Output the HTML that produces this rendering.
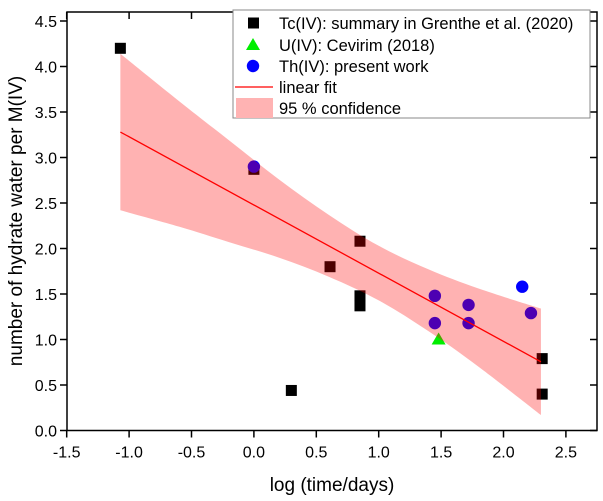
<!DOCTYPE html>
<html><head><meta charset="utf-8"><style>
html,body{margin:0;padding:0;background:#fff;}
svg{display:block;font-family:"Liberation Sans",Arial,sans-serif;}
</style></head><body>
<svg id="chart" width="603" height="501" viewBox="0 0 603 501">
</svg>
<script>
const xTicks=[-1.5,-1.0,-0.5,0.0,0.5,1.0,1.5,2.0,2.5];
const xTickLabels=["-1.5","-1.0","-0.5","0.0","0.5","1.0","1.5","2.0","2.5"];
const yTicks=[0,0.5,1,1.5,2,2.5,3,3.5,4,4.5];
const yTickLabels=["0.0","0.5","1.0","1.5","2.0","2.5","3.0","3.5","4.0","4.5"];
const tcX=[-1.07,0,0.3,0.61,0.85,0.85,0.85,2.31,2.31];
const tcY=[4.2,2.87,0.44,1.8,2.08,1.48,1.37,0.79,0.40];
const uX=[1.48];
const uY=[1.0];
const thX=[0,1.45,1.45,1.72,1.72,2.15,2.22];
const thY=[2.9,1.48,1.18,1.38,1.18,1.58,1.29];
const fitX=[-1.07,2.3];
const fitY=[3.28,0.755];
const bandX=[-1.07,-0.6,-0.2,0.2,0.6,1.0,1.4,1.8,2.3];
const bandUpY=[4.14,3.62,3.19,2.76,2.37,2.03,1.77,1.56,1.34];
const bandLoY=[2.42,2.24,2.07,1.90,1.69,1.43,1.09,0.70,0.17];

const NS="http://www.w3.org/2000/svg";
const svg=document.getElementById('chart');
const L=67,R=597,T=12,B=430.5;
const sx=v=>66.7+(v+1.5)*124.8;
const sy=v=>430.5-v*91;
function mk(tag,attrs,parent){const e=document.createElementNS(NS,tag);for(const k in attrs)e.setAttribute(k,attrs[k]);(parent||svg).appendChild(e);return e;}

tcX.forEach((x,i)=>{const e=mk('rect',{x:sx(x)-5.5,y:sy(tcY[i])-5.5,width:11,height:11,fill:'#000'});

});
uX.forEach((x,i)=>{const cx=sx(x),cy=sy(uY[i]);const e=mk('polygon',{points:`${cx-7},${cy+5} ${cx+7},${cy+5} ${cx},${cy-7}`,fill:'#00ee00'});

});
thX.forEach((x,i)=>{const e=mk('circle',{cx:sx(x),cy:sy(thY[i]),r:6.2,fill:'#0000ff'});

});

// smooth band path (catmull-rom through sampled points)
function smooth(xs,ys){const p=xs.map((x,i)=>[sx(x),sy(ys[i])]);let d='';
for(let i=0;i<p.length-1;i++){const p0=p[i-1]||p[i],p1=p[i],p2=p[i+1],p3=p[i+2]||p2;
const c1=[p1[0]+(p2[0]-p0[0])/6,p1[1]+(p2[1]-p0[1])/6],c2=[p2[0]-(p3[0]-p1[0])/6,p2[1]-(p3[1]-p1[1])/6];
d+=` C${c1[0]},${c1[1]} ${c2[0]},${c2[1]} ${p2[0]},${p2[1]}`;}return {start:p[0],d:d};}
const up=smooth(bandX,bandUpY);
const loXr=bandX.slice().reverse(),loYr=bandLoY.slice().reverse();
const lo=smooth(loXr,loYr);
const band=mk('path',{d:`M${up.start[0]},${up.start[1]}${up.d} L${lo.start[0]},${lo.start[1]}${lo.d} Z`,fill:'rgba(255,0,0,0.3)'});


const fit=mk('line',{x1:sx(fitX[0]),y1:sy(fitY[0]),x2:sx(fitX[1]),y2:sy(fitY[1]),stroke:'#ff0000','stroke-width':1.3});



const fr=mk('rect',{x:L,y:T,width:R-L,height:B-T,fill:'none',stroke:'#000','stroke-width':1.5});


xTicks.forEach((v,i)=>{const x=sx(v);
mk('line',{x1:x,y1:B,x2:x,y2:B+7,stroke:'#000','stroke-width':1.5});
mk('line',{x1:x,y1:T,x2:x,y2:T+7,stroke:'#000','stroke-width':1.5});
const t=mk('text',{x:x,y:B+27,'text-anchor':'middle','font-size':16,fill:'#000'});t.textContent=xTickLabels[i];

});
yTicks.forEach((v,i)=>{const y=sy(v);
mk('line',{x1:L-7,y1:y,x2:L,y2:y,stroke:'#000','stroke-width':1.5});
mk('line',{x1:R-7,y1:y,x2:R,y2:y,stroke:'#000','stroke-width':1.5});
const t=mk('text',{x:L-10,y:y+6,'text-anchor':'end','font-size':16,fill:'#000'});t.textContent=yTickLabels[i];

});
const xt=mk('text',{x:332,y:491,'text-anchor':'middle','font-size':19,fill:'#000'});xt.textContent='log (time/days)';


const yt=mk('text',{x:0,y:0,'text-anchor':'middle','font-size':19,fill:'#000',transform:'translate(22,221) rotate(-90)'});yt.textContent='number of hydrate water per M(IV)';



const lg=mk('g',{});


mk('rect',{x:233,y:10,width:357,height:108,fill:'#fff',stroke:'#888','stroke-width':1},lg);
const rows=[23,45,66,87,108];
mk('rect',{x:248,y:rows[0]-5.5,width:11,height:11,fill:'#000'},lg);
mk('polygon',{points:`246,${rows[1]+5} 260,${rows[1]+5} 253,${rows[1]-7}`,fill:'#00ee00'},lg);
mk('circle',{cx:253,cy:rows[2],r:6.2,fill:'#0000ff'},lg);
mk('line',{x1:235,y1:rows[3],x2:273,y2:rows[3],stroke:'#ff0000','stroke-width':1.3},lg);
mk('rect',{x:236,y:rows[4]-10,width:37,height:20,fill:'#ffb3b3'},lg);
const labels=['Tc(IV): summary in Grenthe et al. (2020)','U(IV): Cevirim (2018)','Th(IV): present work','linear fit','95 % confidence'];
labels.forEach((s,i)=>{const t=mk('text',{x:279,y:rows[i]+6,'font-size':16.5,fill:'#000'},lg);t.textContent=s;

});
</script>
</body></html>
